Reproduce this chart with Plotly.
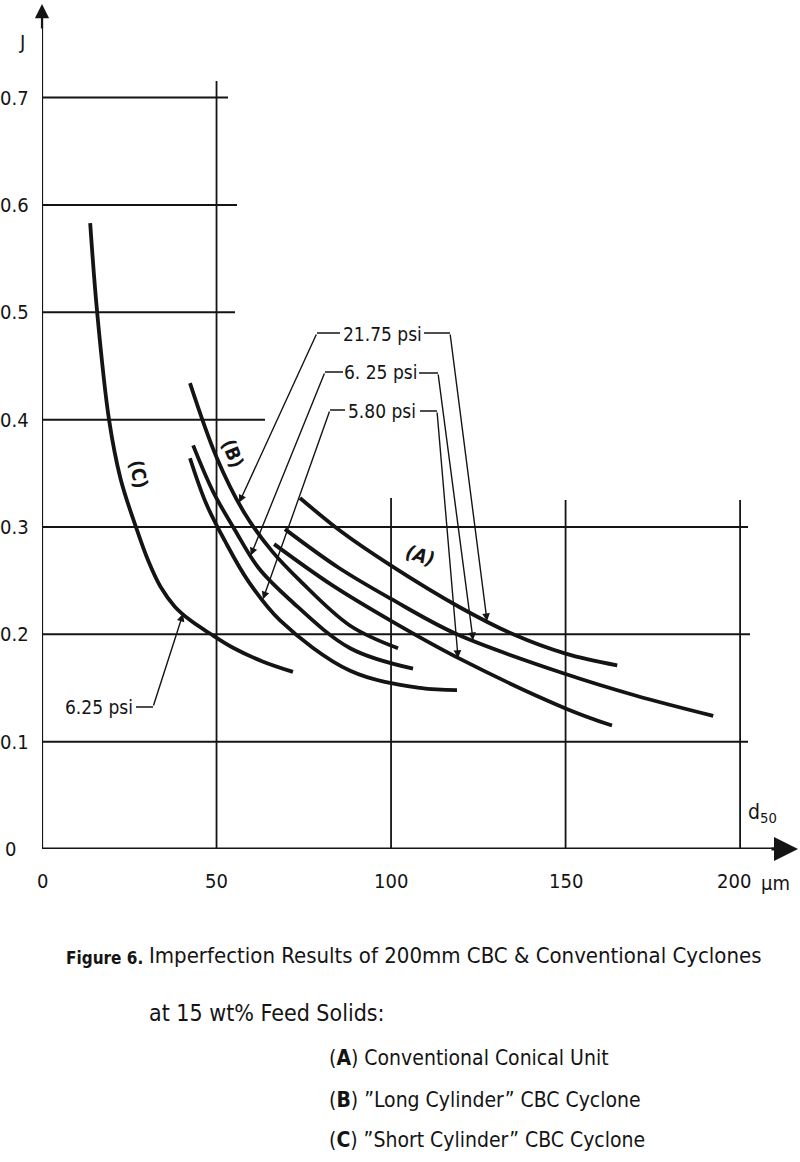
import numpy as np
import plotly.graph_objects as go

# ---------------- data ----------------
# Curve (A) Conventional Conical Unit, three pressures
a_2175_x = [73.9, 86.0, 100.0, 119.8, 135.0, 150.0, 164.8]
a_2175_y = [0.327, 0.295, 0.264, 0.225, 0.200, 0.182, 0.171]
a_625_x = [69.6, 85.0, 100.0, 118.9, 150.0, 170.0, 192.3]
a_625_y = [0.298, 0.262, 0.233, 0.200, 0.163, 0.143, 0.124]
a_580_x = [66.5, 83.0, 100.0, 119.2, 150.0, 163.3]
a_580_y = [0.284, 0.246, 0.2125, 0.178, 0.131, 0.115]

# Curve (B) "Long Cylinder" CBC cyclone, three pressures
b_2175_x = [42.4, 50.0, 58.0, 66.0, 73.9, 88.3, 102.0]
b_2175_y = [0.434, 0.365, 0.313, 0.277, 0.250, 0.208, 0.187]
b_625_x = [43.3, 49.0, 55.3, 62.0, 71.1, 88.3, 106.3]
b_625_y = [0.376, 0.333, 0.297, 0.262, 0.232, 0.187, 0.168]
b_580_x = [42.4, 47.0, 52.4, 59.0, 68.2, 88.3, 108.3, 118.9]
b_580_y = [0.364, 0.322, 0.287, 0.250, 0.213, 0.166, 0.150, 0.148]

# Curve (C) "Short Cylinder" CBC cyclone, 6.25 psi
c_625_x = [13.8, 15.8, 19.2, 22.5, 26.9, 30.5, 34.0, 38.0, 42.5, 48.0, 55.0, 63.0, 71.9]
c_625_y = [0.583, 0.500, 0.400, 0.345, 0.300, 0.268, 0.244, 0.226, 0.213, 0.201, 0.187, 0.175, 0.165]

x_ticks = [0, 50, 100, 150, 200]
x_tick_text = ["0", "50", "100", "150", "200"]
y_ticks = [0, 0.1, 0.2, 0.3, 0.4, 0.5, 0.6, 0.7]
y_tick_text = ["0", "0.1", "0.2", "0.3", "0.4", "0.5", "0.6", "0.7"]

# ---------------- layout helpers ----------------
L, T, W, H = 42, 1, 755, 848
XR = [0, 216.3]
YR = [0, 0.79]
FIG_W, FIG_H = 800, 1162


def dx(p):  # pixel -> data x
    return XR[0] + (p - L) / W * (XR[1] - XR[0])


def dy(p):  # pixel -> data y
    return YR[0] + (T + H - p) / H * (YR[1] - YR[0])


def pxp(p):  # pixel -> paper x
    return (p - L) / W


def pyp(p):  # pixel -> paper y
    return (T + H - p) / H


def ypaper_of(v):  # data y -> paper y
    return (v - YR[0]) / (YR[1] - YR[0])


def xpaper_of(v):
    return (v - XR[0]) / (XR[1] - XR[0])


INK = "#141414"
NARROW = "DejaVu Sans Condensed, Liberation Sans Narrow, Arial Narrow, sans-serif"

fig = go.Figure()

curves = [
    (a_2175_x, a_2175_y), (a_625_x, a_625_y), (a_580_x, a_580_y),
    (b_2175_x, b_2175_y), (b_625_x, b_625_y), (b_580_x, b_580_y),
    (c_625_x, c_625_y),
]
for cx, cy in curves:
    fig.add_trace(go.Scatter(x=cx, y=cy, mode="lines",
                             line=dict(color=INK, width=3.8, shape="spline", smoothing=1.0),
                             hoverinfo="skip", showlegend=False))

shapes = []
# partial grid lines (horizontal: y value, right end in data x)
h_grid = [(0.1, dx(748)), (0.2, dx(750)), (0.3, dx(748)), (0.4, dx(265)),
          (0.5, dx(235)), (0.6, dx(237)), (0.7, dx(228))]
for yv, xe in h_grid:
    shapes.append(dict(type="line", xref="x", yref="y", x0=0, x1=xe, y0=yv, y1=yv,
                       line=dict(color=INK, width=2)))
v_grid = [(50, dy(81)), (100, dy(498)), (150, dy(500)), (200, dy(500))]
for xv, yt in v_grid:
    shapes.append(dict(type="line", xref="x", yref="y", x0=xv, x1=xv, y0=0, y1=yt,
                       line=dict(color=INK, width=1.8)))
# axes
shapes.append(dict(type="line", xref="x", yref="y", x0=0, x1=dx(785), y0=0, y1=0,
                   line=dict(color=INK, width=3)))
shapes.append(dict(type="line", xref="x", yref="y", x0=0, x1=0, y0=0, y1=dy(14),
                   line=dict(color=INK, width=2.2)))

annotations = []
# axis arrow heads
annotations.append(dict(x=dx(798), y=0, ax=dx(770), ay=0, xref="x", yref="y", axref="x", ayref="y",
                        text="", showarrow=True, arrowhead=2, arrowsize=1.6, arrowwidth=3, arrowcolor=INK))
annotations.append(dict(x=0, y=dy(4), ax=0, ay=dy(30), xref="x", yref="y", axref="x", ayref="y",
                        text="", showarrow=True, arrowhead=2, arrowsize=1.3, arrowwidth=2.2, arrowcolor=INK))

tick_font = dict(family=NARROW, size=20, color=INK)
for yv, t in zip(y_ticks, y_tick_text):
    annotations.append(dict(x=pxp(31 if t != "0" else 18), y=ypaper_of(yv), xref="paper", yref="paper",
                            text=t, showarrow=False, xanchor="right", yanchor="middle", font=tick_font))
for xv, t in zip(x_ticks, x_tick_text):
    xx = xpaper_of(xv) if xv != 200 else pxp(734)
    annotations.append(dict(x=xx, y=pyp(881), xref="paper", yref="paper", text=t,
                            showarrow=False, xanchor="center", yanchor="middle", font=tick_font))
annotations.append(dict(x=pxp(775), y=pyp(883), xref="paper", yref="paper", text="\u03bcm", showarrow=False,
                        xanchor="center", yanchor="middle", font=tick_font))
annotations.append(dict(x=pxp(22), y=pyp(42), xref="paper", yref="paper", text="J", showarrow=False,
                        xanchor="center", yanchor="middle", font=dict(family=NARROW, size=20, color=INK)))
annotations.append(dict(x=dx(762), y=dy(813), xref="x", yref="y", text="d<sub>50</sub>", showarrow=False,
                        xanchor="center", yanchor="middle", font=dict(family=NARROW, size=21, color=INK)))

# curve group labels
lab_font = dict(family=NARROW, size=19, color=INK)
annotations.append(dict(x=dx(420), y=dy(555), xref="x", yref="y", text="<b><i>(A)</i></b>",
                        showarrow=False, textangle=18, font=lab_font))
annotations.append(dict(x=dx(233), y=dy(453), xref="x", yref="y", text="<b>(B)</b>",
                        showarrow=False, textangle=68, font=lab_font))
annotations.append(dict(x=dx(139), y=dy(474), xref="x", yref="y", text="<b>(C)</b>",
                        showarrow=False, textangle=78, font=lab_font))

# pressure labels with leader lines
psi_font = dict(family=NARROW, size=19, color=INK)


def tip_y(cx, cy, xv):
    return float(np.interp(xv, cx, cy))


leaders = [
    ("21.75 psi", (382, 334), (317, 340, 333), (b_2175_x, b_2175_y, 56.5),
     (424, 450, 333), (a_2175_x, a_2175_y, 127.5)),
    ("6. 25 psi", (380, 372), (325, 343, 372), (b_625_x, b_625_y, 59.8),
     (419, 438, 373), (a_625_x, a_625_y, 123.5)),
    ("5.80 psi", (382, 411), (330, 345, 410), (b_580_x, b_580_y, 63.3),
     (420, 437, 411), (a_580_x, a_580_y, 119.2)),
]
for text, (cxp, cyp), ld, lt, rd, rt in leaders:
    annotations.append(dict(x=dx(cxp), y=dy(cyp), xref="x", yref="y", text=text, showarrow=False,
                            xanchor="center", yanchor="middle", font=psi_font))
    for (x0, x1, yy) in (ld, rd):
        shapes.append(dict(type="line", xref="x", yref="y", x0=dx(x0), x1=dx(x1), y0=dy(yy), y1=dy(yy),
                           line=dict(color=INK, width=1.5)))
    annotations.append(dict(x=lt[2], y=tip_y(lt[0], lt[1], lt[2]), ax=dx(ld[0]), ay=dy(ld[2]),
                            xref="x", yref="y", axref="x", ayref="y", text="", showarrow=True,
                            arrowhead=2, arrowsize=1.1, arrowwidth=1.4, arrowcolor=INK))
    annotations.append(dict(x=rt[2], y=tip_y(rt[0], rt[1], rt[2]), ax=dx(rd[1]), ay=dy(rd[2]),
                            xref="x", yref="y", axref="x", ayref="y", text="", showarrow=True,
                            arrowhead=2, arrowsize=1.1, arrowwidth=1.4, arrowcolor=INK))

# C label
annotations.append(dict(x=dx(99), y=dy(707), xref="x", yref="y", text="6.25 psi", showarrow=False,
                        xanchor="center", yanchor="middle", font=psi_font))
shapes.append(dict(type="line", xref="x", yref="y", x0=dx(136), x1=dx(153), y0=dy(707), y1=dy(707),
                   line=dict(color=INK, width=1.5)))
annotations.append(dict(x=40.4, y=tip_y(c_625_x, c_625_y, 40.4), ax=dx(153), ay=dy(707),
                        xref="x", yref="y", axref="x", ayref="y", text="", showarrow=True,
                        arrowhead=2, arrowsize=1.1, arrowwidth=1.4, arrowcolor=INK))

# caption
annotations.append(dict(x=pxp(64), y=pyp(958), xref="paper", yref="paper", text="<b>Figure 6.</b>",
                        showarrow=False, xanchor="left", yanchor="middle",
                        font=dict(family="DejaVu Sans Condensed, DejaVu Sans, sans-serif", size=17, color=INK)))
annotations.append(dict(x=pxp(147), y=pyp(955), xref="paper", yref="paper",
                        text="Imperfection Results of 200mm CBC &amp; Conventional Cyclones", showarrow=False,
                        xanchor="left", yanchor="middle", font=dict(family=NARROW, size=22, color=INK)))
annotations.append(dict(x=pxp(147), y=pyp(1013), xref="paper", yref="paper", text="at 15 wt% Feed Solids:",
                        showarrow=False, xanchor="left", yanchor="middle",
                        font=dict(family=NARROW, size=23, color=INK)))
legend_lines = [("A", "Conventional Conical Unit", 1058),
                ("B", "\u201dLong Cylinder\u201d CBC Cyclone", 1100),
                ("C", "\u201dShort Cylinder\u201d CBC Cyclone", 1140)]
for letter, desc, ypx in legend_lines:
    annotations.append(dict(x=pxp(327), y=pyp(ypx), xref="paper", yref="paper",
                            text="(<b>" + letter + "</b>) " + desc, showarrow=False,
                            xanchor="left", yanchor="middle", font=dict(family=NARROW, size=21, color=INK)))

fig.update_layout(
    width=FIG_W, height=FIG_H,
    margin=dict(l=L, r=FIG_W - L - W, t=T, b=FIG_H - T - H, pad=0),
    paper_bgcolor="white", plot_bgcolor="white",
    xaxis=dict(range=XR, visible=False, fixedrange=True),
    yaxis=dict(range=YR, visible=False, fixedrange=True),
    shapes=shapes, annotations=annotations, showlegend=False,
)

fig.write_html("out.html", config={"displayModeBar": False},
               post_script="document.body.style.margin='0';document.body.style.overflow='hidden';")
